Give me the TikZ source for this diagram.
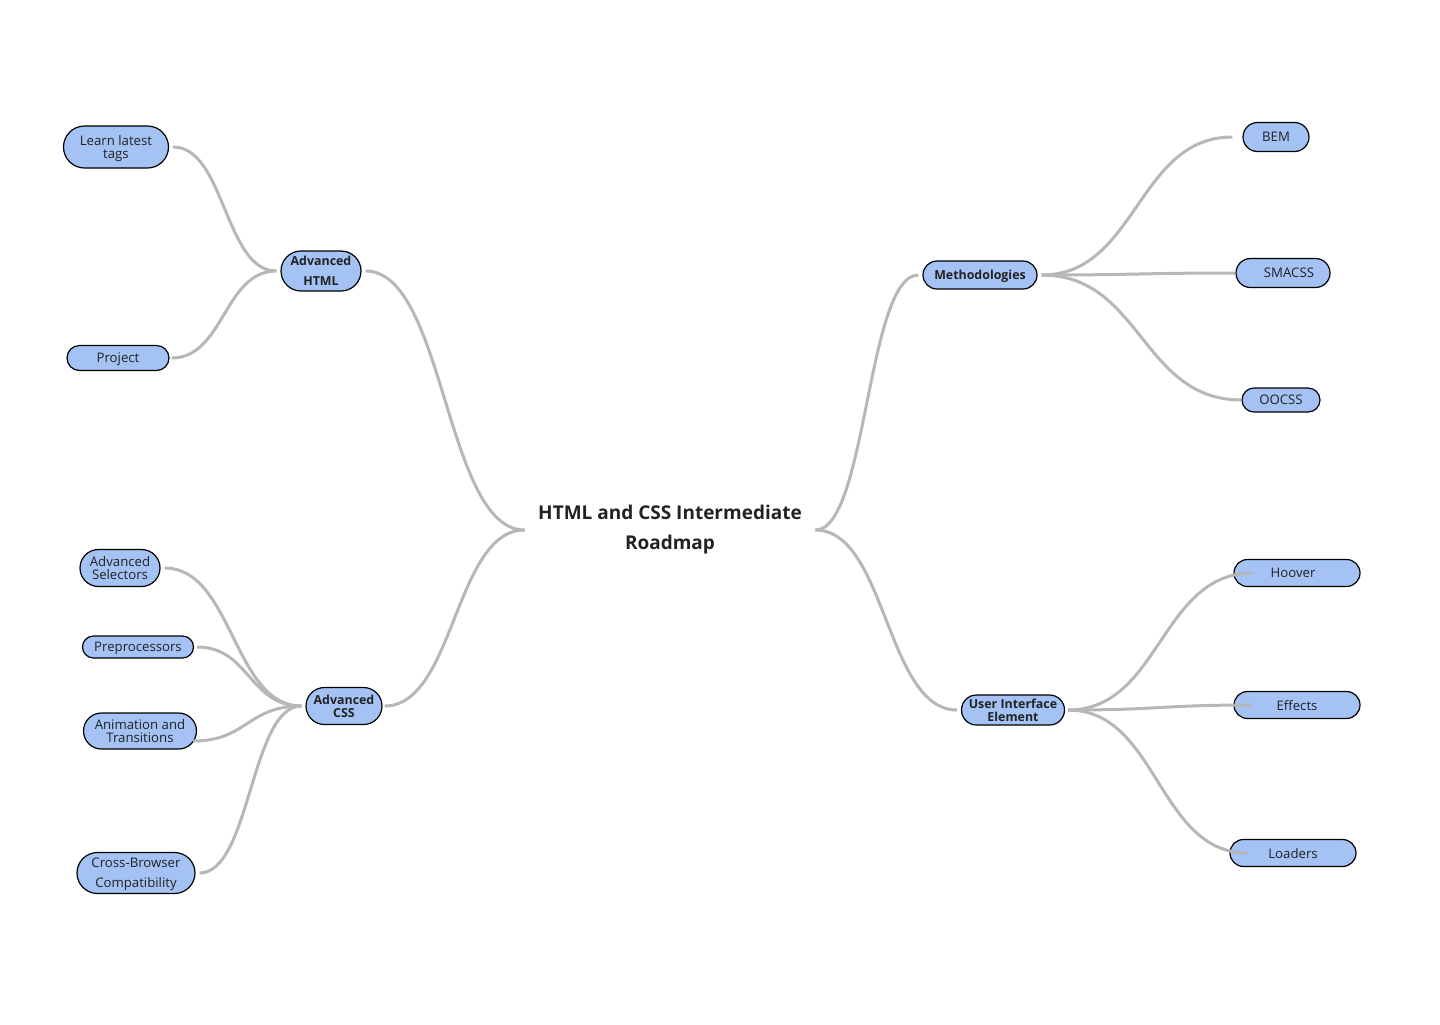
\documentclass[tikz,border=0pt]{standalone}
\usepackage{fontspec}
\setmainfont{Open Sans}
\usepackage{tikz}
\usetikzlibrary{shapes.misc,calc,positioning}
\definecolor{nodeblue}{HTML}{A4C2F4}
\definecolor{linegray}{HTML}{B7B7B7}
\definecolor{inkgray}{HTML}{222222}
\tikzstyle{root} = [text centered, text=inkgray, minimum width=145pt, align=center, font=\fontsize{9.5}{15}\selectfont\bfseries]
\tikzstyle{topic} = [draw=black, line width=0.6pt, fill=nodeblue, rounded rectangle, text=inkgray, align=center, inner sep=0pt, text depth=0pt, font=\fontsize{6.2}{6.6}\selectfont\bfseries]
\tikzstyle{leaf} = [draw=black, line width=0.6pt, fill=nodeblue, rounded rectangle, text=inkgray, align=center, inner sep=0pt, text depth=0pt, minimum height=13.5pt, font=\fontsize{6.6}{6.6}\selectfont]
\tikzstyle{branch} = [draw, line width=1.5pt, color=linegray, to path={let \p1=(\tikztostart), \p2=(\tikztotarget) in .. controls ({(\x1+\x2)/2},\y1) and ({(\x1+\x2)/2},\y2) .. (\tikztotarget) \tikztonodes}]
\newcommand{\topic}[3]{node (t#1) [topic,#2] {#3}}
\newcommand{\leaf}[3]{node (l#1) [leaf,#2] {#3}}

\begin{document}
\begin{tikzpicture}[x=0.5pt,y=-0.5pt]
\useasboundingbox (0,0) rectangle (1440,1024);
\path (670,530) node (r) [root] {HTML and CSS Intermediate\\Roadmap};

\path (r)+(-349,-259) \topic{1}{minimum width=40pt,minimum height=20pt}{Advanced\\[3.4pt]HTML};
\path (r)+(-326,176) \topic{2}{minimum width=38pt,minimum height=18.5pt}{Advanced\\CSS};
\path (r)+(310,-255) \topic{3}{minimum width=57pt,minimum height=14pt}{Methodologies};
\path (r)+(343,180) \topic{4}{minimum width=51.5pt,minimum height=15pt}{User Interface\\Element};

\path (t1)+(-205,-124) \leaf{1}{minimum width=52.5pt,minimum height=21pt}{Learn latest\\tags};
\path (t1)+(-203,87) \leaf{2}{minimum width=51pt,minimum height=12.5pt}{Project};

\path (t2)+(-224,-138) \leaf{3}{minimum width=40pt,minimum height=18.5pt}{Advanced\\Selectors};
\path (t2)+(-206,-59) \leaf{4}{minimum width=55.5pt,minimum height=11pt}{Preprocessors};
\path (t2)+(-204,25) \leaf{5}{minimum width=56.5pt,minimum height=18pt}{Animation and\\Transitions};
\path (t2)+(-208,167) \leaf{6}{minimum width=59pt,minimum height=20.5pt}{Cross-Browser\\[3.4pt]Compatibility};

\path (t3)+(296,-138) \leaf{7}{minimum width=33pt,minimum height=14.5pt}{BEM};
\path (t3)+(303,-2) \leaf{8}{minimum width=47pt,minimum height=14.5pt}{\hspace{6pt}SMACSS};
\path (t3)+(301,125) \leaf{9}{minimum width=39pt,minimum height=12pt}{OOCSS};

\path (t4)+(284,-137) \leaf{10}{minimum width=63pt}{Hoover\hspace{4pt}};
\path (t4)+(284,-5) \leaf{11}{minimum width=63pt}{Effects};
\path (t4)+(280,143) \leaf{12}{minimum width=63pt}{Loaders};

% root to topics
\path [branch] (r.west) to ([xshift=2pt]t1.east);
\path [branch] (r.west) to ([xshift=1pt]t2.east);
\path [branch] (r.east) to ([xshift=-2pt]t3.west);
\path [branch] (r.east) to ([xshift=-2pt]t4.west);

% topics to leaves
\path [branch] ([xshift=-2pt]t1.west) to ([xshift=2pt]l1.east);
\path [branch] ([xshift=-2pt]t1.west) to ([xshift=1pt]l2.east);
\path [branch] ([xshift=-2pt]t2.west) to ([xshift=2pt]l3.east);
\path [branch] ([xshift=-2pt]t2.west) to ([xshift=1.5pt]l4.east);
\path [branch] ([xshift=-2pt]t2.west) to ([xshift=-2pt,yshift=-5pt]l5.east);
\path [branch] ([xshift=-2pt]t2.west) to ([xshift=2pt]l6.east);
\path [branch] ([xshift=2pt]t3.east) to ([xshift=-5pt]l7.west);
\path [branch] ([xshift=2pt]t3.east) to (l8.west);
\path [branch] ([xshift=2pt]t3.east) to (l9.west);
\path [branch] ([xshift=1.5pt]t4.east) to ([xshift=9.5pt]l10.west);
\path [branch] ([xshift=1.5pt]t4.east) to ([xshift=9.5pt]l11.west);
\path [branch] ([xshift=1.5pt]t4.east) to ([xshift=9pt]l12.west);
\end{tikzpicture}
\end{document}
